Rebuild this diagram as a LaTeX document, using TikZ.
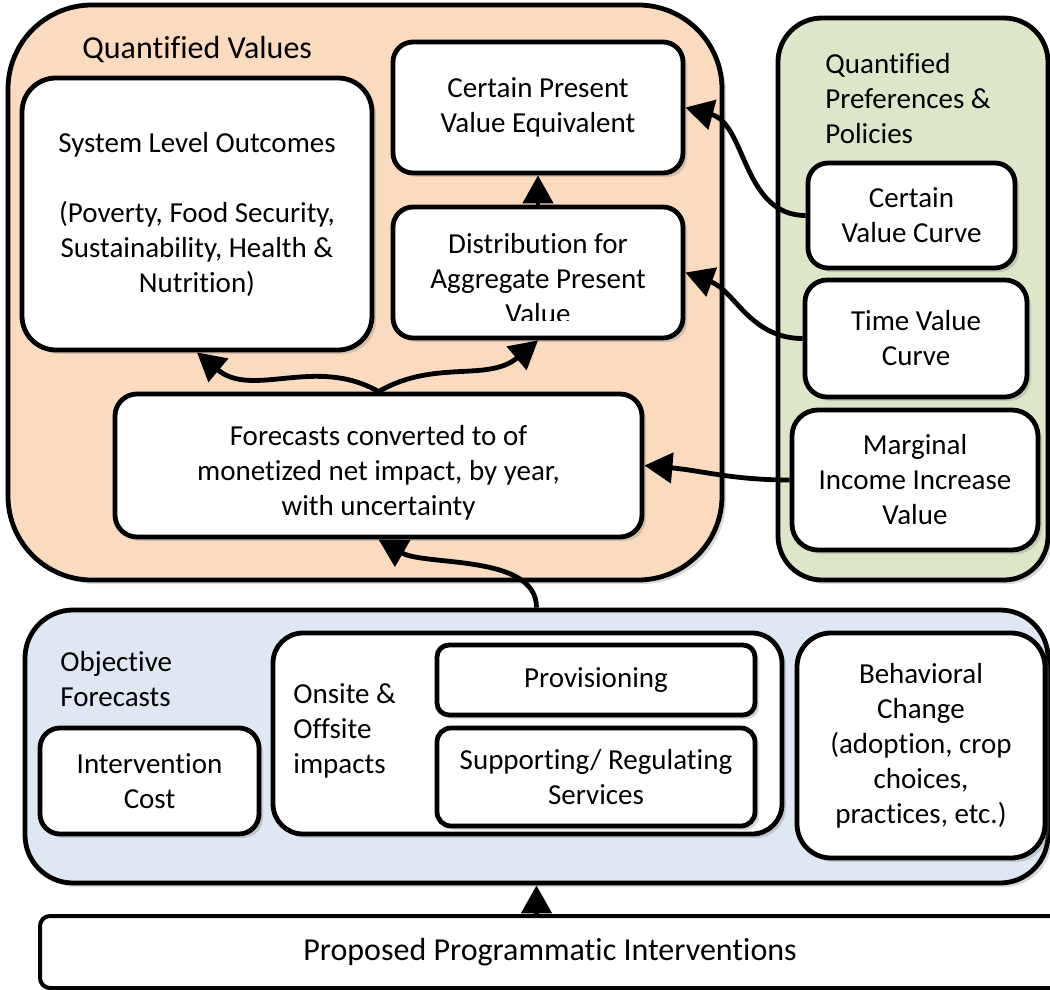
\documentclass[tikz,border=0pt]{standalone}
\usepackage{fontspec}
\setmainfont{Carlito}[Ligatures=NoCommon]
\usetikzlibrary{arrows.meta}
\usetikzlibrary{shadows}
\definecolor{valcol}{RGB}{250,219,192}
\definecolor{prefcol}{RGB}{221,230,201}
\definecolor{forecol}{RGB}{223,231,242}
\tikzstyle{box}=[draw=black,fill=white,line width=2.4pt,rounded corners=10pt,inner sep=0pt,align=center,
                 drop shadow={shadow xshift=2pt,shadow yshift=-2pt,opacity=0.3}]
\tikzstyle{lbl}=[inner sep=0pt,align=left]
\tikzset{
  conn/.style={line width=2.4pt,-{Triangle[length=14pt,width=15pt]}},
  every node/.style={font=\fontsize{14.5}{17.5}\selectfont},
  big/.style={font=\fontsize{16}{19}\selectfont}}

\begin{document}
\begin{tikzpicture}[x=0.5pt,y=0.5pt]
  \useasboundingbox (0,0) rectangle (1050,-990);

  % GROUPS
  \node[box,fill=valcol,minimum width=357pt,minimum height=287.5pt,rounded corners=42pt] (qv) at (365,-292.5) {};
  \node[box,fill=prefcol,minimum width=135pt,minimum height=281pt,rounded corners=22pt] (qp) at (913,-299) {};
  \node[box,fill=forecol,minimum width=511.5pt,minimum height=136.5pt,rounded corners=24pt] (objf) at (536.5,-746.5) {};
  \node[box,big,line width=2pt,rounded corners=5pt,drop shadow={opacity=0},minimum width=510pt,minimum height=36pt] (prop) at (550,-952)
    {Proposed Programmatic Interventions};

  \node[lbl,big,anchor=west] (qvtitle) at (82,-50) {Quantified Values};
  \node[lbl,anchor=west] (qptitle) at (825,-99) {Quantified\\Preferences \&\\Policies};
  \node[lbl,anchor=west] (oftitle) at (60,-679.5) {Objective\\Forecasts};

  % VALUES
  \node[box,minimum width=175pt,minimum height=136pt,rounded corners=17pt] (sys) at (197,-214)
    {System Level Outcomes\\[17.5pt](Poverty, Food Security,\\Sustainability, Health \&\\Nutrition)};
  \node[box,minimum width=145pt,minimum height=65.5pt] (cpv) at (538,-107.5) {Certain Present\\Value Equivalent};
  \node[box,minimum width=145pt,minimum height=65.5pt] (dist) at (538,-272.5) {};
  \begin{scope}
    \clip (393,-207) rectangle (683,-320);
    \node[inner sep=0pt,align=center] (distlbl) at (538,-279) {Distribution for\\Aggregate Present\\Value};
  \end{scope}
  \node[box,minimum width=263.5pt,minimum height=71.5pt,rounded corners=11pt] (fc) at (378.5,-465.5) {};
  \node[inner sep=0pt,align=center] (fclbl) at (378.5,-473) {Forecasts converted to of\\monetized net impact, by year,\\with uncertainty};

  % PREFERENCES
  \node[box,minimum width=103.5pt,minimum height=52.5pt] (cvc) at (911.5,-215.5) {Certain\\Value Curve};
  \node[box,minimum width=111pt,minimum height=58.5pt,rounded corners=11pt] (tvc) at (916,-338.5) {Time Value\\Curve};
  \node[box,minimum width=123pt,minimum height=70pt,rounded corners=13pt] (miv) at (915,-480) {Marginal\\Income Increase\\Value};

  % FORECASTS
  \node[box,minimum width=109.5pt,minimum height=53pt] (ic) at (149.5,-781) {Intervention\\Cost};
  \node[box,minimum width=254.5pt,minimum height=100.5pt,rounded corners=15pt] (ons) at (527.5,-733.5) {};
  \node[lbl,anchor=west] (onslbl) at (293,-731) {Onsite \&\\Offsite\\impacts};
  \node[box,minimum width=159pt,minimum height=35pt,rounded corners=6pt] (prov) at (596,-680) {Provisioning};
  \node[box,minimum width=159pt,minimum height=49pt,rounded corners=7pt] (sup) at (596,-777) {Supporting/ Regulating\\Services};
  \node[box,minimum width=124pt,minimum height=112.5pt,rounded corners=17pt] (beh) at (921,-745.5)
    {Behavioral\\Change\\(adoption, crop\\choices,\\practices, etc.)};

  % ARROWS
  \draw[conn] (objf.south |- prop.north) -- (objf.south);
  \draw[conn] (objf.north) to[out=90,in=-30,looseness=0.8] (fc.south);
  \draw[conn] (fc.north) to[out=150,in=-40] (sys.south);
  \draw[conn] (fc.north) to[out=30,in=-140] (dist.south);
  \draw[conn] (dist.north) -- (cpv.south);
  \draw[conn] (cvc.west) to[out=180,in=-15] (cpv.east);
  \draw[conn] (tvc.west) to[out=180,in=-20] (dist.east);
  \draw[conn] (miv.west) to[out=180,in=-5] (fc.east);

\end{tikzpicture}
\end{document}
